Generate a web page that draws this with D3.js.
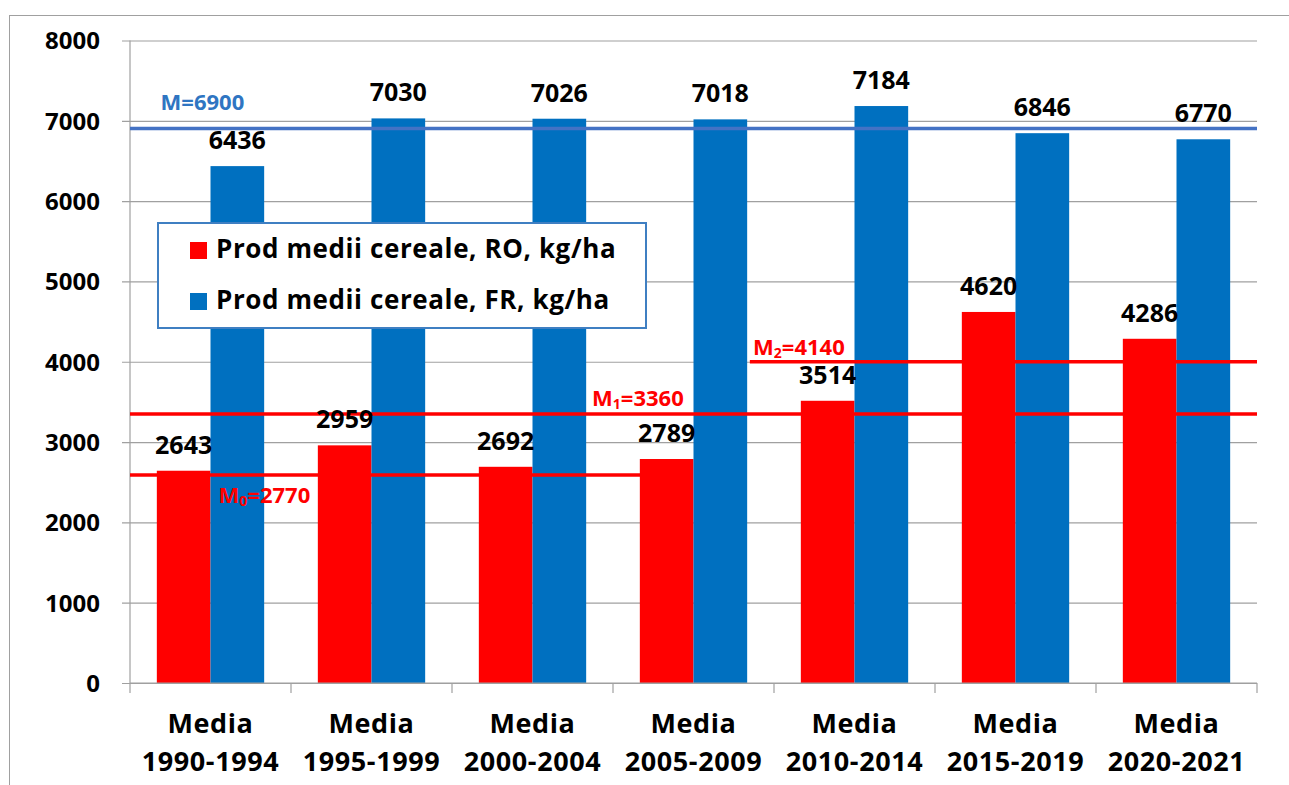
<!DOCTYPE html>
<html>
<head>
<meta charset="utf-8">
<script src="https://cdn.jsdelivr.net/npm/d3@7"></script>
<style>
  html, body { margin: 0; padding: 0; background: #fff; }
  svg text { font-family: 'Open Sans', Lato, sans-serif; font-weight: 700; }
</style>
</head>
<body>
<div id="container"></div>
<script>
// Data
const categories = ['1990-1994', '1995-1999', '2000-2004', '2005-2009', '2010-2014', '2015-2019', '2020-2021'];
const roValues = [2643, 2959, 2692, 2789, 3514, 4620, 4286];
const frValues = [6436, 7030, 7026, 7018, 7184, 6846, 6770];
const seriesNames = ['Prod medii cereale, RO, kg/ha', 'Prod medii cereale, FR, kg/ha'];
const yTicks = [0, 1000, 2000, 3000, 4000, 5000, 6000, 7000, 8000];

// reference (average) lines, level as drawn in the picture
const refNames = ['M', 'M', 'M', 'M'];
const refSubs = ['', '0', '1', '2'];
const refTexts = ['=6900', '=2770', '=3360', '=4140'];
const refLevels = [6905, 2590, 3350, 4000];
const refFrom = [0, 0, 0, 3.85];
const refTo = [7, 3.17, 7, 7];

const svgWidth = 1289;
const svgHeight = 785;
const plotLeft = 130;
const plotRight = 1257;
const plotTop = 40.5;
const plotBottom = 683;

const red = '#ff0000';
const blue = '#0070c0';
const lineBlue = '#4472c4';

const svg = d3
  .select('#container')
  .append('svg')
  .attr('width', svgWidth)
  .attr('height', svgHeight);

// outer frame
svg
  .append('rect')
  .attr('x', 9.5)
  .attr('y', 15.5)
  .attr('width', 1300)
  .attr('height', 800)
  .attr('fill', 'none')
  .attr('stroke', '#a0a0a0');

// SCALES
const xScale = d3
  .scaleBand()
  .domain(categories)
  .range([plotLeft, plotRight]);

const xInner = d3
  .scaleBand()
  .domain([0, 1])
  .range([0, xScale.bandwidth()])
  .paddingOuter(0.5);

const pos = d3.scaleLinear().domain([0, categories.length]).range([plotLeft, plotRight]);

const yScale = d3
  .scaleLinear()
  .domain([0, 8000])
  .range([plotBottom, plotTop]);

// GRID + Y-AXIS
const yAxis = d3
  .axisLeft(yScale)
  .tickValues(yTicks)
  .tickSize(plotRight - plotLeft + 8)
  .tickFormat(d3.format('d'));

const gy = svg
  .append('g')
  .attr('transform', `translate(${plotRight}, 0)`)
  .call(yAxis);
gy.select('.domain').remove();
gy.selectAll('line').attr('stroke', '#a0a0a0').attr('stroke-width', 1.2);
gy.selectAll('text')
  .attr('x', -(plotRight - plotLeft) - 30)
  .attr('font-size', 24)
  .attr('fill', '#000')
  .attr('dy', '0.35em');

svg
  .append('line')
  .attr('x1', plotLeft)
  .attr('x2', plotLeft)
  .attr('y1', plotTop)
  .attr('y2', plotBottom)
  .attr('stroke', '#a0a0a0')
  .attr('stroke-width', 1.2);

// X-AXIS ticks at category boundaries
svg
  .append('g')
  .selectAll('line')
  .data(d3.range(categories.length + 1))
  .join('line')
  .attr('x1', d => pos(d))
  .attr('x2', d => pos(d))
  .attr('y1', plotBottom)
  .attr('y2', plotBottom + 10)
  .attr('stroke', '#a0a0a0')
  .attr('stroke-width', 1.2);

const xLabels = svg
  .append('g')
  .selectAll('text')
  .data(categories)
  .join('text')
  .attr('text-anchor', 'middle')
  .attr('font-size', 27)
  .attr('letter-spacing', 0.6)
  .attr('fill', '#000');
xLabels.append('tspan').attr('x', d => xScale(d) + xScale.bandwidth() / 2).attr('y', 733).text('Media');
xLabels.append('tspan').attr('x', d => xScale(d) + xScale.bandwidth() / 2).attr('y', 771).text(d => d);

// BARS
const series = [
  { values: roValues, color: red },
  { values: frValues, color: blue }
];

series.forEach((s, si) => {
  svg
    .append('g')
    .selectAll('rect')
    .data(s.values)
    .join('rect')
    .attr('x', (d, i) => xScale(categories[i]) + xInner(si))
    .attr('y', d => yScale(d))
    .attr('width', xInner.bandwidth())
    .attr('height', d => plotBottom - yScale(d))
    .attr('fill', s.color);
});

svg
  .append('line')
  .attr('x1', plotLeft)
  .attr('x2', plotRight)
  .attr('y1', plotBottom)
  .attr('y2', plotBottom)
  .attr('stroke', '#a0a0a0')
  .attr('stroke-width', 1.2);

// REFERENCE LINES
refLevels.forEach((lvl, i) => {
  svg
    .append('line')
    .attr('x1', pos(refFrom[i]))
    .attr('x2', pos(refTo[i]))
    .attr('y1', yScale(lvl))
    .attr('y2', yScale(lvl))
    .attr('stroke', i === 0 ? lineBlue : red)
    .attr('stroke-width', 3.5);
});

// label placement for the reference lines: [category position, offset from line]
const refLabelPlace = [[0.19, -18], [0.55, 28], [2.87, -8], [3.87, -7]];
refLevels.forEach((lvl, i) => {
  const t = svg
    .append('text')
    .attr('x', pos(refLabelPlace[i][0]))
    .attr('y', yScale(lvl) + refLabelPlace[i][1])
    .attr('font-size', 22)
    .attr('fill', i === 0 ? '#2f75c2' : red);
  t.append('tspan').text(refNames[i]);
  if (refSubs[i]) {
    t.append('tspan').attr('font-size', 14).attr('dy', 3).text(refSubs[i]);
    t.append('tspan').attr('dy', -3).text(refTexts[i]);
  } else {
    t.append('tspan').text(refTexts[i]);
  }
});

// DATA LABELS
series.forEach((s, si) => {
  svg
    .append('g')
    .selectAll('text')
    .data(s.values)
    .join('text')
    .attr('x', (d, i) => xScale(categories[i]) + xInner(si) + xInner.bandwidth() / 2)
    .attr('y', d => yScale(d) - 17)
    .attr('text-anchor', 'middle')
    .attr('font-size', 25)
    .attr('fill', '#000')
    .text(d => d);
});

// LEGEND
const legend = svg.append('g').attr('transform', 'translate(158, 223)');
legend
  .append('rect')
  .attr('width', 488)
  .attr('height', 105)
  .attr('fill', '#fff')
  .attr('stroke', '#3f7fc2')
  .attr('stroke-width', 2);

series.forEach((s, si) => {
  legend
    .append('rect')
    .attr('x', 32)
    .attr('y', 19 + si * 51)
    .attr('width', 17)
    .attr('height', 17)
    .attr('fill', s.color);
  legend
    .append('text')
    .attr('x', 58)
    .attr('y', 35 + si * 51)
    .attr('font-size', 26)
    .attr('letter-spacing', 0.6)
    .attr('fill', '#000')
    .text(seriesNames[si]);
});
</script>
</body>
</html>
